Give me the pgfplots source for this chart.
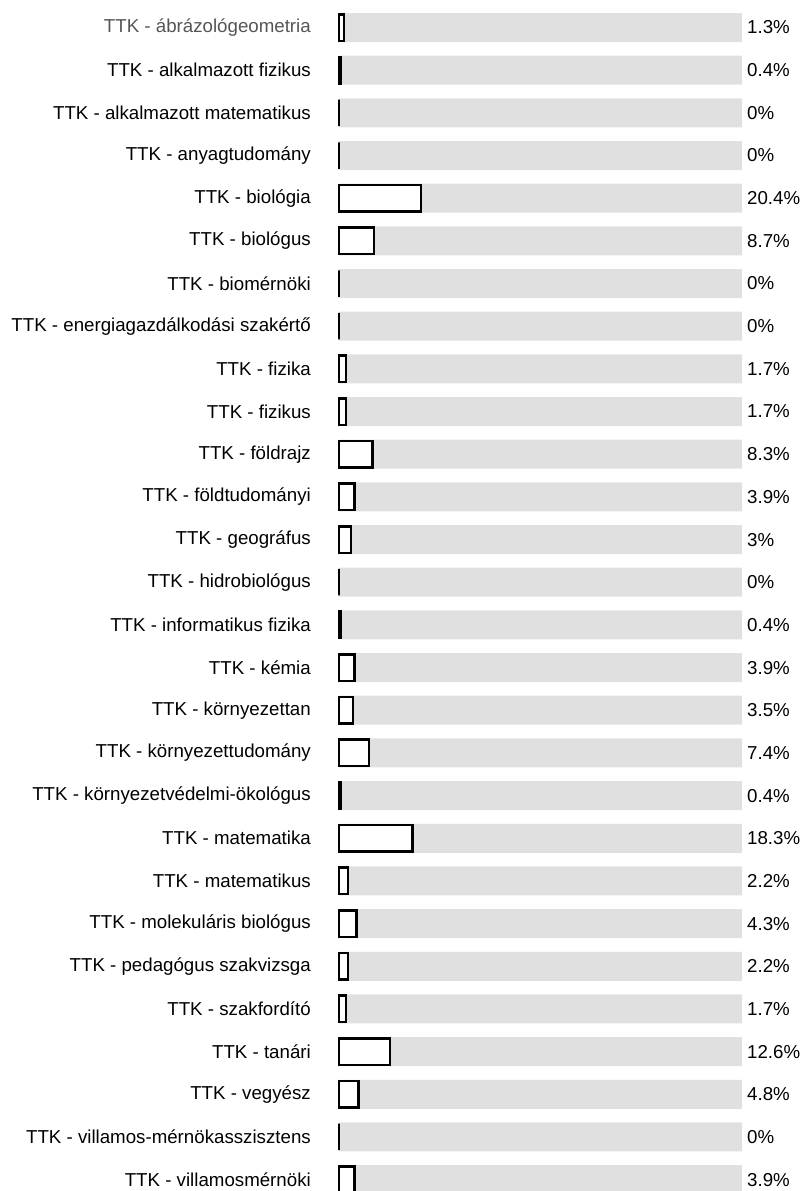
\documentclass[border=0pt]{standalone}
\usepackage{fontspec}
\setmainfont{Liberation Sans}
\usepackage{pgfplots}
\usepackage{pgfplotstable}
\pgfplotsset{compat=1.18}
\definecolor{bggray}{HTML}{E0E0E0}
\definecolor{firstlab}{HTML}{555555}
\pgfplotstableread{
idx v full
0 1.3 100
1 0.4 100
2 0 100
3 0 100
4 20.4 100
5 8.7 100
6 0 100
7 0 100
8 1.7 100
9 1.7 100
10 8.3 100
11 3.9 100
12 3 100
13 0 100
14 0.4 100
15 3.9 100
16 3.5 100
17 7.4 100
18 0.4 100
19 18.3 100
20 2.2 100
21 4.3 100
22 2.2 100
23 1.7 100
24 12.6 100
25 4.8 100
26 0 100
27 3.9 100
}\datatable
\begin{document}
\begin{tikzpicture}
\begin{axis}[
  at={(0,0)}, anchor=south west,
  scale only axis,
  width=403bp, height=1191bp,
  xmin=0, xmax=100,
  ymin=-0.6445, ymax=27.267,
  y dir=reverse,
  enlargelimits=false,
  clip=false,
  axis line style={draw=none},
  tick style={draw=none},
  major tick length=0pt,
  xtick=\empty,
  ytick={0,...,27},
  yticklabels={
    \textcolor{firstlab}{TTK - ábrázológeometria},
    TTK - alkalmazott fizikus,
    TTK - alkalmazott matematikus,
    TTK - anyagtudomány,
    TTK - biológia,
    TTK - biológus,
    TTK - biomérnöki,
    TTK - energiagazdálkodási szakértő,
    TTK - fizika,
    TTK - fizikus,
    TTK - földrajz,
    TTK - földtudományi,
    TTK - geográfus,
    TTK - hidrobiológus,
    TTK - informatikus fizika,
    TTK - kémia,
    TTK - környezettan,
    TTK - környezettudomány,
    TTK - környezetvédelmi-ökológus,
    TTK - matematika,
    TTK - matematikus,
    TTK - molekuláris biológus,
    TTK - pedagógus szakvizsga,
    TTK - szakfordító,
    TTK - tanári,
    TTK - vegyész,
    TTK - villamos-mérnökasszisztens,
    TTK - villamosmérnöki},
  yticklabel style={anchor=east, inner sep=0pt, xshift=-28bp,
    font=\fontsize{18.7bp}{22bp}\selectfont},
  /pgf/number format/assume math mode=true,
]
\addplot[xbar, bar shift=0pt, bar width=29bp, fill=bggray, draw=none,
  nodes near coords={\pgfmathprintnumber{\pgfplotspointmeta}\%},
  point meta=explicit,
  every node near coord/.append style={anchor=west, inner sep=0pt, xshift=5bp,
    text=black, font=\fontsize{18.7bp}{22bp}\selectfont}]
  table[x=full, y=idx, meta=v] {\datatable};
\addplot[xbar, bar shift=0pt, bar width=26.5bp, fill=white, draw=black, line width=2.5bp]
  table[x=v, y=idx] {\datatable};
\end{axis}
\pgfresetboundingbox
\useasboundingbox (-339bp,0) rectangle (463bp,1191bp);
\end{tikzpicture}
\end{document}
